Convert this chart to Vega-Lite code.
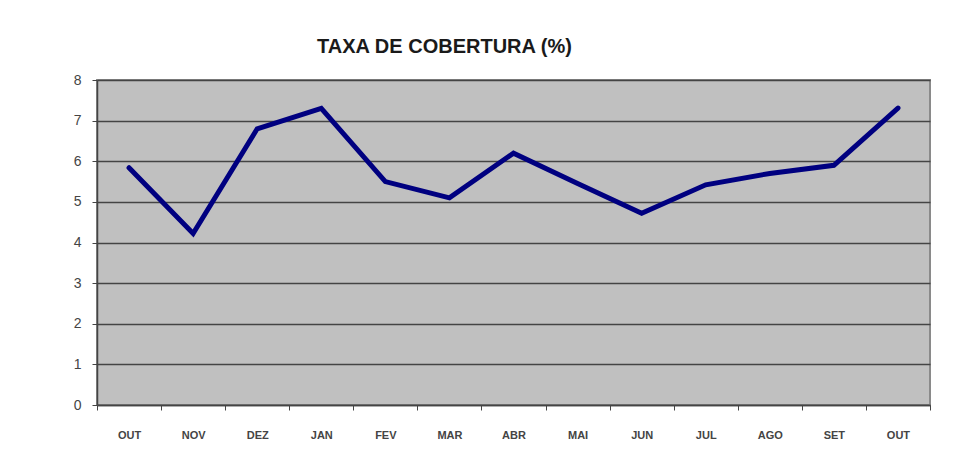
{
  "$schema": "https://vega.github.io/schema/vega-lite/v6.json",
  "autosize": {"type": "none"},
  "width": 833,
  "height": 325,
  "padding": {"left": 97, "top": 80, "right": 35, "bottom": 65},
  "background": "white",
  "title": {
    "text": "TAXA DE COBERTURA (%)",
    "font": "Liberation Sans",
    "fontSize": 20,
    "fontWeight": "bold",
    "color": "#1a1a1a",
    "anchor": "middle",
    "dx": -69,
    "offset": 16
  },
  "data": {
    "values": [
      {"i": 1, "mes": "OUT", "taxa": 5.84},
      {"i": 2, "mes": "NOV", "taxa": 4.22},
      {"i": 3, "mes": "DEZ", "taxa": 6.8},
      {"i": 4, "mes": "JAN", "taxa": 7.3},
      {"i": 5, "mes": "FEV", "taxa": 5.5},
      {"i": 6, "mes": "MAR", "taxa": 5.1},
      {"i": 7, "mes": "ABR", "taxa": 6.2},
      {"i": 8, "mes": "MAI", "taxa": 5.45},
      {"i": 9, "mes": "JUN", "taxa": 4.72},
      {"i": 10, "mes": "JUL", "taxa": 5.42},
      {"i": 11, "mes": "AGO", "taxa": 5.7},
      {"i": 12, "mes": "SET", "taxa": 5.9},
      {"i": 13, "mes": "OUT", "taxa": 7.31}
    ]
  },
  "mark": {"type": "line", "color": "#000080", "strokeWidth": 5, "strokeJoin": "miter", "strokeCap": "round"},
  "encoding": {
    "x": {
      "field": "i",
      "type": "ordinal",
      "scale": {"paddingInner": 0, "paddingOuter": 0},
      "axis": {
        "title": null,
        "labelAngle": 0,
        "labelExpr": "['OUT','NOV','DEZ','JAN','FEV','MAR','ABR','MAI','JUN','JUL','AGO','SET','OUT'][datum.value-1]",
        "tickBand": "extent",
        "labelFont": "Liberation Sans",
        "labelFontSize": 11,
        "labelFontWeight": "bold",
        "labelColor": "#444",
        "labelPadding": 19,
        "tickSize": 5,
        "tickColor": "#444",
        "domainColor": "#444",
        "domainWidth": 1.5,
        "grid": false
      }
    },
    "y": {
      "field": "taxa",
      "type": "quantitative",
      "scale": {"domain": [0, 8], "nice": false},
      "axis": {
        "title": null,
        "values": [0, 1, 2, 3, 4, 5, 6, 7, 8],
        "labelFont": "Liberation Sans",
        "labelFontSize": 14,
        "labelColor": "#444",
        "labelPadding": 11,
        "tickSize": 5,
        "tickColor": "#444",
        "domainColor": "#444",
        "domainWidth": 1.5,
        "grid": true,
        "gridColor": "#444",
        "gridWidth": 1.5,
        "gridOpacity": 1
      }
    }
  },
  "config": {
    "view": {"fill": "#c0c0c0", "stroke": "#8a8a8a", "strokeWidth": 2}
  }
}
